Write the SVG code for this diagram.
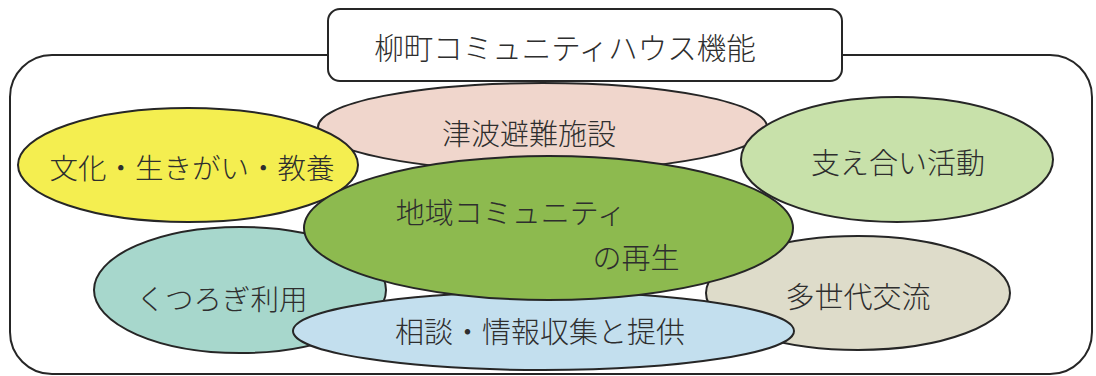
<svg xmlns="http://www.w3.org/2000/svg" width="1096" height="376" viewBox="0 0 1096 376">
<style>
.e{stroke:#262626;stroke-width:2}
.t{font-family:"Noto Sans CJK JP","Noto Sans",sans-serif;font-size:29px;font-weight:300;fill:#2e2e2e;text-anchor:middle;dominant-baseline:central}
</style>
<rect x="0" y="0" width="1096" height="376" fill="#fff"/>
<g id="frame">
<rect x="10" y="55" width="1082" height="319" rx="42" ry="42" fill="#fff" stroke="#262626" stroke-width="2"/>
</g>
<g id="title">
<rect x="328" y="9" width="514" height="72" rx="12" ry="12" fill="#fff" stroke="#262626" stroke-width="2"/>
<text class="t" x="565" y="46" style="font-size:29.5px">柳町コミュニティハウス機能</text>
</g>
<g id="kutsurogi">
<ellipse class="e" cx="240" cy="290" rx="146" ry="63" fill="#a7d7cc"/>
<text class="t" x="222" y="297" style="font-size:28.5px">くつろぎ利用</text>
</g>
<g id="tasedai">
<ellipse class="e" cx="858" cy="293" rx="152" ry="57" fill="#dedcca"/>
<text class="t" x="858" y="295">多世代交流</text>
</g>
<g id="tsunami">
<ellipse class="e" cx="542.5" cy="127" rx="224.5" ry="44" fill="#f0d6cc"/>
<text class="t" x="529" y="132">津波避難施設</text>
</g>
<g id="bunka">
<ellipse class="e" cx="188" cy="165" rx="170" ry="57" fill="#f4ee50"/>
<text class="t" x="192" y="166" style="font-size:28.5px">文化・生きがい・教養</text>
</g>
<g id="sasaeai">
<ellipse class="e" cx="897" cy="159.5" rx="156" ry="62.5" fill="#c8e1aa"/>
<text class="t" x="898" y="161">支え合い活動</text>
</g>
<g id="soudan">
<ellipse class="e" cx="543.5" cy="331" rx="250.5" ry="39" fill="#c3dfee"/>
<text class="t" x="540" y="330">相談・情報収集と提供</text>
</g>
<g id="chiiki">
<ellipse class="e" cx="548.5" cy="228" rx="244.5" ry="72" fill="#8dba4f"/>
<text class="t" x="511" y="211">地域コミュニティ</text>
<text class="t" x="636" y="256">の再生</text>
</g>
<g id="connectors"/>
</svg>
